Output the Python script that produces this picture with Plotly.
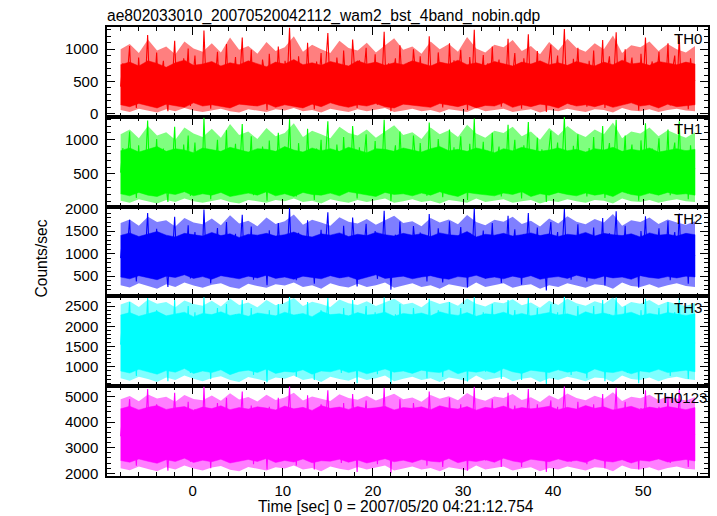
import numpy as np
import plotly.graph_objects as go
from plotly.subplots import make_subplots

# ---- data (count rates) ----
t_start = -8.0
t_step = 0.25
t_end = 55.75

# individual samples (spikes that stick out of the dense band)
th0 = [
    420, 780, 150, 640, 1050, 230, 560, 90, 870, 330, 690, 480, 1220, 260, 710, 380,
    950, 170, 590, 820, 310, 40, 740, 520, 1130, 280, 640, 190, 860, 450, 1010, 120,
    560, 900, 350, 700, 210, 1290, 420, 620, 80, 780, 500, 960, 240, 680, 360, 1080,
    160, 740, 470, 880, 300, 570, 1180, 200, 650, 410, 990, 130, 720, 540, 270, 840,
    610, 60, 930, 380, 760, 250, 1040, 460, 190, 820, 530, 1330, 290, 670, 110, 890,
    430, 720, 220, 1100, 370, 600, 70, 810, 490, 940, 180, 650, 1250, 340, 760, 240,
    870, 510, 150, 980, 410, 700, 260, 1150, 550, 90, 830, 320, 620, 1020, 200, 740,
    380, 920, 140, 690, 480, 1270, 300, 780, 40, 600, 860, 230, 1060, 450, 680, 170,
    800, 330, 1000, 560, 210, 890, 400, 730, 120, 1200, 470, 640, 280, 950, 520, 100,
    710, 260, 1090, 390, 830, 180, 610, 990, 300, 750, 60, 880, 440, 1300, 230, 660,
    500, 910, 150, 780, 350, 1040, 270, 620, 840, 110, 720, 460, 1160, 200, 580, 940,
    320, 700, 80, 860, 530, 1230, 250, 670, 410, 970, 190, 800, 560, 30, 750, 1070,
    290, 640, 900, 170, 590, 1310, 380, 720, 140, 850, 470, 1020, 260, 690, 510, 110,
    820, 360, 980, 220, 760, 430, 1140, 90, 660, 890, 300, 570, 1260, 240, 730, 480,
    1000, 160, 620, 870, 340, 710, 50, 930, 450, 1180, 280, 650, 810, 190, 560, 960,
    270, 740, 420, 1090, 130, 680, 900, 350, 1210, 230, 610, 780, 70, 860, 480, 520,
]

th1 = [
    520, 880, 240, 690, 1120, 330, 610, 150, 920, 410, 760, 560, 1280, 300, 800, 450,
    1010, 210, 650, 870, 370, 90, 790, 590, 1190, 340, 700, 250, 930, 500, 1060, 180,
    620, 960, 400, 760, 270, 1320, 480, 680, 130, 840, 560, 1000, 290, 740, 420, 1140,
    220, 800, 530, 940, 360, 630, 1230, 260, 710, 470, 1050, 190, 780, 600, 330, 900,
    670, 110, 990, 440, 820, 310, 1100, 520, 250, 880, 590, 1300, 350, 730, 170, 950,
    490, 780, 280, 1160, 430, 660, 120, 870, 550, 1000, 240, 710, 1270, 400, 820, 300,
    930, 570, 210, 1040, 470, 760, 320, 1200, 610, 140, 890, 380, 680, 1080, 260, 800,
    440, 980, 200, 750, 540, 1290, 360, 840, 100, 660, 920, 290, 1120, 510, 740, 230,
    860, 390, 1060, 620, 270, 950, 460, 790, 180, 1250, 530, 700, 340, 1010, 580, 160,
    770, 320, 1150, 450, 890, 240, 670, 1050, 360, 810, 120, 940, 500, 1310, 290, 720,
    560, 970, 210, 840, 410, 1100, 330, 680, 900, 170, 780, 520, 1220, 260, 640, 1000,
    380, 760, 140, 920, 590, 1260, 310, 730, 470, 1030, 250, 860, 620, 90, 810, 1130,
    350, 700, 960, 230, 650, 1330, 440, 780, 200, 910, 530, 1080, 320, 750, 570, 170,
    880, 420, 1040, 280, 820, 490, 1200, 150, 720, 950, 360, 630, 1290, 300, 790, 540,
    1060, 220, 680, 930, 400, 770, 110, 990, 510, 1240, 340, 710, 870, 250, 620, 1020,
    330, 800, 480, 1150, 190, 740, 960, 410, 1270, 290, 670, 840, 130, 920, 540, 580,
]

th2 = [
    900, 1420, 560, 1180, 1750, 640, 1050, 380, 1330, 760, 1240, 980, 1900, 600, 1280, 820,
    1550, 480, 1090, 1370, 720, 260, 1260, 940, 1820, 680, 1150, 540, 1400, 870, 1630, 450,
    1010, 1480, 770, 1200, 580, 1980, 860, 1120, 340, 1300, 950, 1570, 620, 1190, 790, 1700,
    500, 1250, 880, 1440, 700, 1060, 1860, 560, 1130, 820, 1600, 420, 1230, 990, 650, 1390,
    1100, 300, 1520, 810, 1290, 620, 1680, 920, 530, 1360, 1000, 2010, 680, 1170, 410, 1460,
    870, 1230, 590, 1740, 760, 1080, 330, 1340, 940, 1530, 500, 1150, 1920, 720, 1270, 610,
    1430, 960, 470, 1620, 830, 1210, 640, 1800, 1010, 270, 1380, 720, 1110, 1660, 540, 1250,
    800, 1500, 440, 1170, 920, 1950, 700, 1310, 200, 1080, 1420, 600, 1710, 880, 1190, 480,
    1350, 740, 1610, 1020, 560, 1470, 850, 1240, 380, 1880, 930, 1140, 660, 1560, 990, 360,
    1200, 620, 1720, 830, 1400, 520, 1090, 1590, 700, 1280, 250, 1460, 900, 2000, 600, 1150,
    960, 1510, 450, 1330, 760, 1680, 640, 1110, 1400, 350, 1240, 890, 1840, 560, 1060, 1540,
    730, 1200, 310, 1430, 980, 1900, 620, 1150, 840, 1580, 520, 1340, 1020, 180, 1260, 1700,
    690, 1120, 1480, 520, 1050, 1990, 800, 1230, 420, 1400, 900, 1650, 640, 1180, 970, 380,
    1360, 780, 1580, 560, 1270, 870, 1790, 290, 1130, 1450, 720, 1040, 1940, 580, 1220, 910,
    1620, 480, 1100, 1420, 750, 1200, 240, 1500, 880, 1830, 680, 1150, 1340, 540, 1030, 1560,
    640, 1250, 860, 1730, 410, 1170, 1480, 760, 1890, 590, 1080, 1300, 330, 1420, 920, 960,
]

th3 = [
    1550, 2250, 980, 1900, 2600, 1120, 1700, 780, 2100, 1300, 1950, 1600, 2700, 1050, 2000, 1400,
    2400, 900, 1750, 2150, 1250, 650, 2050, 1550, 2650, 1150, 1850, 1000, 2200, 1450, 2500, 850,
    1650, 2350, 1300, 1950, 1000, 2720, 1450, 1800, 700, 2100, 1550, 2450, 1100, 1900, 1350, 2550,
    880, 2000, 1500, 2300, 1200, 1700, 2650, 950, 1850, 1400, 2450, 800, 2000, 1600, 1150, 2200,
    1750, 620, 2400, 1350, 2100, 1050, 2550, 1500, 950, 2150, 1650, 2730, 1150, 1900, 760, 2300,
    1450, 2000, 1000, 2600, 1300, 1800, 680, 2150, 1550, 2400, 900, 1850, 2700, 1200, 2050, 1050,
    2300, 1600, 850, 2450, 1400, 1950, 1100, 2650, 1700, 600, 2200, 1250, 1800, 2500, 950, 2050,
    1350, 2350, 820, 1900, 1550, 2710, 1200, 2100, 560, 1750, 2300, 1050, 2550, 1450, 1950, 900,
    2150, 1250, 2450, 1700, 1000, 2300, 1400, 2000, 720, 2680, 1550, 1850, 1150, 2400, 1650, 750,
    1950, 1100, 2600, 1400, 2250, 950, 1800, 2450, 1200, 2050, 640, 2300, 1500, 2720, 1050, 1900,
    1600, 2350, 880, 2150, 1300, 2550, 1100, 1850, 2250, 700, 2000, 1450, 2650, 1000, 1750, 2400,
    1250, 1950, 680, 2250, 1600, 2700, 1050, 1900, 1400, 2450, 950, 2150, 1700, 580, 2050, 2550,
    1150, 1850, 2350, 920, 1700, 2730, 1350, 2000, 800, 2250, 1500, 2500, 1100, 1950, 1600, 720,
    2150, 1300, 2500, 1000, 2050, 1450, 2650, 650, 1850, 2300, 1200, 1750, 2710, 1000, 2000, 1500,
    2500, 850, 1800, 2300, 1250, 1950, 600, 2400, 1450, 2680, 1150, 1850, 2150, 980, 1700, 2450,
    1100, 2050, 1400, 2600, 780, 1900, 2350, 1300, 2700, 1050, 1800, 2150, 700, 2250, 1550, 1600,
]

th0123 = [
    3450, 4350, 2700, 3950, 4900, 2850, 3700, 2300, 4200, 3100, 4050, 3550, 5300, 2800, 4100, 3250,
    4700, 2500, 3800, 4300, 3000, 2100, 4150, 3500, 5150, 2900, 3900, 2600, 4400, 3350, 4800, 2450,
    3650, 4500, 3100, 4000, 2700, 5380, 3300, 3850, 2200, 4250, 3500, 4750, 2850, 4000, 3200, 4950,
    2450, 4100, 3400, 4450, 2950, 3700, 5200, 2600, 3950, 3250, 4650, 2350, 4150, 3600, 2900, 4350,
    3800, 2150, 4600, 3200, 4250, 2800, 4950, 3450, 2550, 4300, 3650, 5400, 2900, 3950, 2300, 4500,
    3300, 4100, 2700, 5050, 3150, 3900, 2150, 4300, 3500, 4700, 2600, 3950, 5250, 3000, 4200, 2750,
    4500, 3600, 2400, 4750, 3250, 4050, 2850, 5100, 3700, 2050, 4350, 3050, 3900, 4850, 2650, 4150,
    3150, 4550, 2350, 3950, 3500, 5350, 2950, 4250, 2000, 3750, 4450, 2800, 4900, 3350, 4000, 2550,
    4300, 3050, 4750, 3650, 2700, 4450, 3250, 4100, 2300, 5200, 3550, 3900, 2950, 4600, 3700, 2250,
    4050, 2900, 4950, 3300, 4400, 2650, 3850, 4700, 3050, 4200, 2100, 4450, 3450, 5380, 2800, 3950,
    3600, 4550, 2500, 4250, 3200, 4900, 2900, 3900, 4400, 2250, 4100, 3400, 5150, 2750, 3750, 4650,
    3100, 4000, 2250, 4400, 3650, 5300, 2850, 4050, 3300, 4700, 2650, 4250, 3700, 2050, 4150, 4850,
    2950, 3850, 4600, 2600, 3750, 5400, 3200, 4100, 2450, 4350, 3450, 4800, 2900, 4000, 3550, 2350,
    4250, 3150, 4700, 2750, 4150, 3350, 5100, 2200, 3900, 4450, 3050, 3750, 5350, 2700, 4050, 3400,
    4800, 2450, 3800, 4400, 3150, 4000, 2150, 4550, 3350, 5250, 2950, 3850, 4200, 2600, 3650, 4600,
    2900, 4100, 3300, 4950, 2400, 3900, 4500, 3200, 5300, 2800, 3800, 4250, 2250, 4350, 3500, 3550,
]

# upper / lower edge of the dense (solid) part of each light curve, ~1 s steps
th0_core_hi = [
    760, 800, 740, 820, 780, 720, 790, 830, 750, 770, 810, 740, 790, 760, 820, 780,
    730, 800, 770, 840, 760, 790, 750, 810, 780, 740, 820, 770, 800, 750, 790, 760,
    820, 780, 740, 800, 770, 830, 760, 790, 750, 810, 780, 740, 800, 770, 820, 760,
    790, 750, 810, 780, 740, 800, 760, 830, 770, 790, 750, 810, 780, 760, 800, 770,
]
th0_core_lo = [
    140, 110, 160, 120, 90, 150, 130, 100, 170, 120, 140, 110, 90, 150, 130, 120,
    160, 100, 140, 120, 90, 150, 110, 170, 130, 100, 140, 120, 160, 110, 90, 150,
    130, 120, 100, 160, 140, 110, 150, 90, 130, 120, 170, 100, 140, 110, 150, 130,
    90, 160, 120, 140, 110, 150, 100, 130, 170, 120, 140, 90, 150, 110, 130, 140,
]
th1_core_hi = [
    840, 880, 820, 860, 900, 830, 870, 850, 810, 880, 860, 830, 890, 850, 820, 870,
    860, 830, 900, 850, 820, 880, 840, 870, 830, 890, 850, 810, 870, 860, 830, 880,
    850, 820, 870, 900, 840, 860, 830, 880, 850, 810, 870, 840, 890, 860, 830, 850,
    880, 840, 860, 820, 870, 850, 890, 830, 860, 840, 880, 820, 850, 870, 840, 860,
]
th1_core_lo = [
    210, 180, 230, 190, 170, 220, 200, 240, 180, 210, 190, 230, 170, 200, 220, 190,
    240, 180, 210, 170, 230, 200, 190, 220, 180, 240, 210, 190, 170, 230, 200, 210,
    180, 220, 190, 240, 200, 170, 230, 210, 190, 180, 220, 200, 240, 170, 210, 190,
    230, 200, 180, 220, 190, 210, 170, 240, 200, 180, 220, 190, 230, 200, 210, 190,
]
th2_core_hi = [
    1400, 1460, 1380, 1430, 1490, 1410, 1370, 1450, 1420, 1390, 1470, 1400, 1440, 1360, 1430, 1410,
    1450, 1390, 1420, 1480, 1400, 1370, 1440, 1410, 1460, 1380, 1430, 1400, 1470, 1420, 1390, 1450,
    1410, 1440, 1380, 1460, 1420, 1400, 1490, 1370, 1430, 1410, 1450, 1390, 1420, 1460, 1400, 1440,
    1380, 1430, 1410, 1470, 1390, 1450, 1420, 1400, 1440, 1370, 1460, 1410, 1430, 1390, 1450, 1420,
]
th2_core_lo = [
    480, 440, 510, 460, 420, 500, 470, 530, 450, 490, 430, 510, 470, 440, 500, 460,
    520, 450, 480, 430, 500, 470, 440, 510, 460, 490, 420, 480, 530, 450, 470, 500,
    440, 480, 510, 460, 430, 490, 470, 520, 450, 480, 440, 500, 460, 510, 430, 470,
    490, 450, 520, 470, 440, 500, 460, 480, 430, 510, 470, 450, 490, 460, 500, 480,
]
th3_core_hi = [
    2280, 2340, 2250, 2310, 2370, 2260, 2300, 2350, 2240, 2320, 2290, 2360, 2270, 2310, 2250, 2330,
    2300, 2260, 2350, 2280, 2320, 2240, 2370, 2290, 2310, 2260, 2340, 2280, 2300, 2350, 2250, 2320,
    2290, 2330, 2260, 2360, 2300, 2270, 2340, 2250, 2310, 2290, 2350, 2270, 2320, 2260, 2300, 2340,
    2280, 2310, 2250, 2360, 2290, 2330, 2270, 2300, 2350, 2260, 2320, 2280, 2340, 2300, 2270, 2310,
]
th3_core_lo = [
    900, 850, 940, 880, 820, 910, 870, 960, 840, 900, 860, 930, 810, 890, 920, 860,
    950, 840, 890, 870, 930, 820, 900, 880, 940, 860, 910, 830, 890, 950, 870, 900,
    840, 920, 880, 860, 940, 830, 900, 870, 910, 850, 960, 880, 840, 920, 890, 860,
    930, 870, 900, 840, 950, 880, 860, 910, 830, 900, 870, 940, 860, 890, 920, 880,
]
th0123_core_hi = [
    4520, 4620, 4480, 4580, 4650, 4500, 4560, 4610, 4470, 4590, 4530, 4640, 4490, 4570, 4510, 4600,
    4550, 4480, 4630, 4520, 4580, 4460, 4650, 4540, 4590, 4500, 4610, 4530, 4560, 4620, 4480, 4570,
    4540, 4600, 4490, 4640, 4550, 4510, 4610, 4470, 4580, 4530, 4630, 4500, 4570, 4520, 4560, 4620,
    4490, 4580, 4510, 4650, 4540, 4600, 4480, 4560, 4620, 4500, 4590, 4530, 4610, 4550, 4490, 4570,
]
th0123_core_lo = [
    2500, 2430, 2560, 2470, 2390, 2530, 2460, 2590, 2420, 2510, 2450, 2550, 2400, 2480, 2540, 2460,
    2580, 2420, 2500, 2440, 2560, 2410, 2490, 2470, 2550, 2430, 2520, 2400, 2480, 2570, 2450, 2510,
    2420, 2540, 2470, 2440, 2580, 2410, 2500, 2460, 2530, 2430, 2590, 2480, 2420, 2550, 2490, 2450,
    2560, 2460, 2500, 2420, 2570, 2480, 2440, 2530, 2400, 2510, 2470, 2560, 2440, 2490, 2540, 2480,
]

# upper / lower edge of the pale, spiky fringe around the dense band, ~1 s steps
th0_fringe_hi = [
    1000, 1080, 940, 1150, 980, 1040, 920, 1120, 1010, 960, 1090, 950, 1180, 990, 1050, 930,
    1110, 970, 1030, 1200, 960, 1070, 1000, 940, 1130, 1020, 980, 1100, 950, 1060, 1170, 990,
    1040, 930, 1120, 1000, 1080, 960, 1190, 1010, 950, 1070, 1030, 1140, 970, 1050, 920, 1110,
    980, 1160, 1020, 960, 1090, 1000, 1210, 940, 1060, 1030, 1120, 970, 1080, 1000, 950, 1050,
]
th0_fringe_lo = [
    60, 30, 80, 50, 20, 70, 40, 90, 50, 30, 60, 80, 40, 20, 70, 50,
    30, 70, 50, 90, 40, 60, 20, 80, 50, 30, 70, 40, 60, 90, 30, 50,
    80, 40, 60, 20, 70, 50, 30, 90, 40, 60, 80, 30, 50, 70, 20, 60,
    40, 80, 50, 30, 70, 60, 20, 90, 50, 40, 70, 30, 60, 80, 50, 40,
]
th1_fringe_hi = [
    1080, 1150, 1020, 1200, 1060, 1110, 1000, 1180, 1090, 1040, 1160, 1030, 1230, 1070, 1120, 1010,
    1170, 1050, 1100, 1240, 1040, 1130, 1080, 1020, 1190, 1100, 1060, 1150, 1030, 1120, 1210, 1070,
    1110, 1010, 1180, 1080, 1140, 1040, 1220, 1090, 1030, 1130, 1100, 1190, 1050, 1120, 1000, 1170,
    1060, 1200, 1100, 1040, 1150, 1080, 1250, 1020, 1120, 1090, 1180, 1050, 1140, 1080, 1030, 1110,
]
th1_fringe_lo = [
    110, 80, 130, 100, 70, 120, 90, 140, 100, 80, 110, 130, 90, 70, 120, 100,
    80, 120, 100, 140, 90, 110, 70, 130, 100, 80, 120, 90, 110, 140, 80, 100,
    130, 90, 110, 70, 120, 100, 80, 140, 90, 110, 130, 80, 100, 120, 70, 110,
    90, 130, 100, 80, 120, 110, 70, 140, 100, 90, 120, 80, 110, 130, 100, 90,
]
th2_fringe_hi = [
    1680, 1760, 1620, 1820, 1700, 1740, 1600, 1790, 1690, 1650, 1780, 1630, 1850, 1670, 1730, 1610,
    1800, 1660, 1720, 1870, 1640, 1750, 1690, 1620, 1810, 1710, 1670, 1770, 1640, 1740, 1840, 1680,
    1720, 1610, 1790, 1690, 1760, 1650, 1860, 1700, 1630, 1750, 1710, 1820, 1660, 1730, 1600, 1780,
    1670, 1830, 1710, 1650, 1770, 1690, 1880, 1620, 1740, 1700, 1800, 1660, 1760, 1690, 1640, 1720,
]
th2_fringe_lo = [
    300, 250, 340, 280, 220, 320, 260, 360, 290, 240, 310, 340, 260, 220, 330, 280,
    240, 320, 290, 360, 260, 300, 220, 340, 280, 250, 330, 260, 300, 360, 240, 290,
    340, 260, 300, 220, 320, 280, 240, 360, 260, 300, 340, 240, 290, 320, 220, 300,
    260, 340, 290, 240, 320, 300, 220, 360, 280, 260, 320, 240, 300, 340, 280, 260,
]
th3_fringe_hi = [
    2540, 2620, 2480, 2660, 2560, 2600, 2470, 2640, 2550, 2510, 2630, 2490, 2690, 2530, 2590, 2470,
    2650, 2520, 2580, 2700, 2500, 2610, 2550, 2480, 2660, 2570, 2530, 2620, 2500, 2600, 2680, 2540,
    2580, 2470, 2640, 2550, 2610, 2510, 2690, 2560, 2490, 2600, 2570, 2670, 2520, 2590, 2460, 2630,
    2530, 2680, 2570, 2510, 2620, 2550, 2710, 2480, 2600, 2560, 2650, 2520, 2610, 2550, 2500, 2580,
]
th3_fringe_lo = [
    720, 660, 760, 700, 630, 740, 680, 790, 710, 650, 730, 770, 680, 630, 750, 700,
    650, 740, 710, 790, 680, 720, 630, 760, 700, 660, 750, 680, 720, 790, 650, 710,
    760, 680, 720, 630, 740, 700, 650, 790, 680, 720, 760, 650, 710, 740, 630, 720,
    680, 760, 710, 650, 740, 720, 630, 790, 700, 680, 740, 650, 720, 760, 700, 680,
]
th0123_fringe_hi = [
    4900, 5020, 4820, 5080, 4930, 4990, 4800, 5060, 4910, 4860, 5040, 4840, 5130, 4890, 4980, 4810,
    5070, 4870, 4960, 5150, 4850, 5000, 4920, 4830, 5090, 4950, 4880, 5030, 4850, 4990, 5110, 4900,
    4960, 4800, 5060, 4920, 5010, 4860, 5140, 4940, 4840, 5000, 4950, 5100, 4870, 4970, 4790, 5050,
    4890, 5120, 4950, 4860, 5030, 4920, 5170, 4830, 4990, 4940, 5070, 4870, 5010, 4930, 4850, 4970,
]
th0123_fringe_lo = [
    2200, 2120, 2260, 2170, 2080, 2240, 2150, 2300, 2190, 2110, 2230, 2280, 2140, 2080, 2250, 2180,
    2110, 2240, 2190, 2300, 2150, 2210, 2080, 2260, 2180, 2120, 2250, 2150, 2210, 2300, 2110, 2190,
    2260, 2150, 2210, 2080, 2240, 2180, 2110, 2300, 2150, 2210, 2260, 2110, 2190, 2240, 2080, 2210,
    2150, 2260, 2190, 2110, 2240, 2210, 2080, 2300, 2180, 2150, 2240, 2110, 2210, 2260, 2180, 2150,
]

band_names = ["TH0", "TH1", "TH2", "TH3", "TH0123"]
band_values = [th0, th1, th2, th3, th0123]
band_core_hi = [th0_core_hi, th1_core_hi, th2_core_hi, th3_core_hi, th0123_core_hi]
band_core_lo = [th0_core_lo, th1_core_lo, th2_core_lo, th3_core_lo, th0123_core_lo]
band_fringe_hi = [th0_fringe_hi, th1_fringe_hi, th2_fringe_hi, th3_fringe_hi, th0123_fringe_hi]
band_fringe_lo = [th0_fringe_lo, th1_fringe_lo, th2_fringe_lo, th3_fringe_lo, th0123_fringe_lo]
band_colors = ["#ff0000", "#00ff00", "#0000ff", "#00ffff", "#ff00ff"]
band_pale = ["rgba(255,0,0,0.5)", "rgba(0,255,0,0.5)", "rgba(0,0,255,0.5)",
             "rgba(0,255,255,0.5)", "rgba(255,0,255,0.5)"]
y_tickvals = [[0, 500, 1000], [500, 1000], [500, 1000, 1500, 2000],
              [1000, 1500, 2000, 2500], [2000, 3000, 4000, 5000]]
x_tickvals = [0, 10, 20, 30, 40, 50]

title_text = "ae802033010_20070520042112_wam2_bst_4band_nobin.qdp"
x_title = "Time [sec] 0 = 2007/05/20 04:21:12.754"
y_title = "Counts/sec"

# ---- axis settings ----
y_ranges = [[-46, 1343], [23, 1335], [50, 2044], [525, 2739], [1893, 5407]]
y_minor = [100, 100, 100, 100, 200]
x_range = [-9.51, 57.19]

FONT = "Liberation Sans, Arial, Helvetica, sans-serif"


def band_polygon(hi, lo):
    te = np.linspace(t_start, t_end, len(hi))
    px = np.concatenate([te, te[::-1]])
    py = np.concatenate([np.array(hi), np.array(lo)[::-1]])
    return px, py


fig = make_subplots(rows=5, cols=1, shared_xaxes=True, vertical_spacing=0)

for i, name in enumerate(band_names):
    col = band_colors[i]
    fx, fy = band_polygon(band_fringe_hi[i], band_fringe_lo[i])
    fig.add_trace(go.Scatter(x=fx, y=fy, mode="lines", fill="toself",
                             fillcolor=band_pale[i], line=dict(width=0),
                             hoverinfo="skip", showlegend=False),
                  row=i + 1, col=1)
    cx, cy = band_polygon(band_core_hi[i], band_core_lo[i])
    fig.add_trace(go.Scatter(x=cx, y=cy, mode="lines", fill="toself",
                             fillcolor=col, line=dict(color=col, width=0.5),
                             hoverinfo="skip", showlegend=False),
                  row=i + 1, col=1)
    vals = band_values[i]
    t = t_start + t_step * np.arange(len(vals))
    fig.add_trace(go.Scatter(x=t, y=vals, mode="lines", name=name,
                             line=dict(color=col, width=1.1), showlegend=False),
                  row=i + 1, col=1)
    fig.update_yaxes(row=i + 1, col=1, range=y_ranges[i], tickvals=y_tickvals[i],
                     ticks="inside", ticklen=8, tickwidth=1, tickcolor="black",
                     minor=dict(dtick=y_minor[i], ticks="inside", ticklen=4,
                                tickwidth=1, tickcolor="black"),
                     showline=True, linecolor="black", linewidth=1.5,
                     mirror="allticks", showgrid=False, zeroline=False,
                     ticklabelstandoff=4,
                     tickfont=dict(family=FONT, size=15, color="black"))
    fig.update_xaxes(row=i + 1, col=1, range=x_range, tickvals=x_tickvals,
                     ticks="inside", ticklen=8, tickwidth=1, tickcolor="black",
                     minor=dict(dtick=2, ticks="inside", ticklen=4,
                                tickwidth=1, tickcolor="black"),
                     showline=True, linecolor="black", linewidth=1.5,
                     mirror="allticks", showgrid=False, zeroline=False,
                     showticklabels=(i == 4),
                     tickfont=dict(family=FONT, size=15, color="black"))
    yref = "y domain" if i == 0 else f"y{i + 1} domain"
    fig.add_annotation(text=name, xref="paper", x=1, xanchor="right",
                       xshift=(-4 if name != "TH0123" else 1),
                       yref=yref, y=1, yanchor="top", yshift=-1,
                       showarrow=False, font=dict(family=FONT, size=15, color="black"))

fig.add_annotation(text=title_text, xref="paper", x=0, xanchor="left", xshift=-2,
                   yref="paper", y=1, yanchor="bottom", yshift=0, showarrow=False,
                   font=dict(family=FONT, size=15.6, color="black"))
fig.add_annotation(text=x_title, xref="paper", x=0.481, xanchor="center",
                   yref="paper", y=-0.069, yanchor="middle", showarrow=False,
                   font=dict(family=FONT, size=15.6, color="black"))
fig.add_annotation(text=y_title, xref="paper", x=-0.109, xanchor="center",
                   yref="paper", y=0.4855, yanchor="middle", textangle=-90,
                   showarrow=False, font=dict(family=FONT, size=15.6, color="black"))

fig.update_layout(width=717, height=516,
                  margin=dict(l=107, r=7, t=27, b=40),
                  paper_bgcolor="white", plot_bgcolor="white",
                  font=dict(family=FONT, size=15, color="black"))

fig.write_html("out.html", config={"displayModeBar": False},
               post_script="document.body.style.margin='0px';document.body.style.overflow='hidden';")
